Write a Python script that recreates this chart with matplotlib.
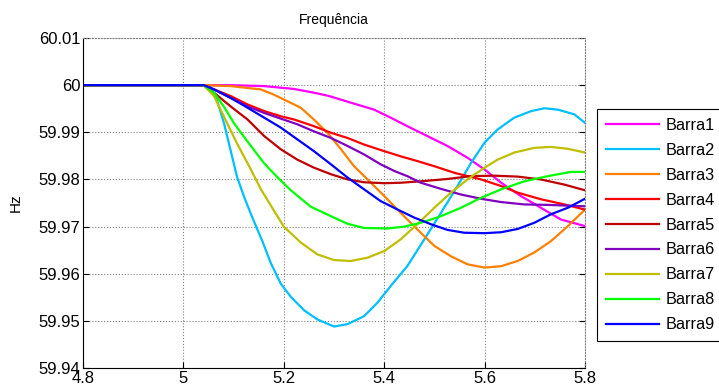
import matplotlib
matplotlib.use('Agg')
import matplotlib.pyplot as plt

plt.rcParams['font.family'] = ['Liberation Sans', 'DejaVu Sans']

# valores (tempo em s, frequência em Hz)
t1 = [4.8, 5.04, 5.094, 5.16, 5.22, 5.26, 5.29, 5.333, 5.38, 5.413, 5.446, 5.486, 5.526, 5.566, 5.6, 5.633, 5.672, 5.712, 5.752, 5.8]
f1 = [60.0, 60.0, 60.0, 59.9998, 59.9992, 59.9984, 59.9977, 59.9963, 59.9948, 59.9931, 59.9913, 59.9892, 59.9871, 59.9846, 59.9821, 59.9793, 59.9765, 59.9740, 59.9715, 59.9701]

t2 = [4.8, 5.04, 5.054, 5.067, 5.081, 5.094, 5.107, 5.121, 5.134, 5.147, 5.157, 5.174, 5.194, 5.214, 5.241, 5.267, 5.3, 5.327, 5.36, 5.387, 5.413, 5.446, 5.48, 5.513, 5.546, 5.573, 5.6, 5.626, 5.659, 5.693, 5.719, 5.746, 5.779, 5.8]
f2 = [60.0, 60.0, 59.99964, 59.9968, 59.9919, 59.9862, 59.9805, 59.9763, 59.9728, 59.9695, 59.9670, 59.9623, 59.9579, 59.9551, 59.9522, 59.9503, 59.9488, 59.9493, 59.9510, 59.9539, 59.9574, 59.9616, 59.9673, 59.9729, 59.9786, 59.9835, 59.9878, 59.9906, 59.9931, 59.9945, 59.9951, 59.9948, 59.9938, 59.9920]

t3 = [4.8, 5.04, 5.094, 5.154, 5.18, 5.207, 5.234, 5.26, 5.287, 5.314, 5.34, 5.367, 5.4, 5.433, 5.466, 5.5, 5.533, 5.566, 5.6, 5.633, 5.666, 5.699, 5.732, 5.766, 5.8]
f3 = [60.0, 60.0, 59.9998, 59.9991, 59.9980, 59.9966, 59.9952, 59.9927, 59.9899, 59.9864, 59.9828, 59.9800, 59.9765, 59.9729, 59.9694, 59.9659, 59.9637, 59.9620, 59.9613, 59.9616, 59.9627, 59.9645, 59.9669, 59.9701, 59.9736]

t4 = [4.8, 5.04, 5.061, 5.094, 5.128, 5.161, 5.194, 5.221, 5.26, 5.294, 5.327, 5.36, 5.4, 5.433, 5.466, 5.5, 5.54, 5.593, 5.633, 5.666, 5.712, 5.759, 5.8]
f4 = [60.0, 60.0, 59.9991, 59.9977, 59.9959, 59.9945, 59.9934, 59.9927, 59.9913, 59.9899, 59.9888, 59.9874, 59.9860, 59.9849, 59.9839, 59.9828, 59.9814, 59.9800, 59.9786, 59.9772, 59.9758, 59.9747, 59.9736]

t5 = [4.8, 5.04, 5.061, 5.094, 5.128, 5.161, 5.194, 5.227, 5.26, 5.294, 5.327, 5.36, 5.4, 5.433, 5.473, 5.526, 5.573, 5.619, 5.666, 5.712, 5.759, 5.8]
f5 = [60.0, 60.0, 59.9984, 59.9955, 59.9927, 59.9892, 59.9864, 59.9842, 59.9825, 59.9811, 59.9800, 59.9794, 59.9792, 59.9793, 59.9796, 59.9801, 59.9807, 59.9808, 59.9806, 59.9800, 59.9789, 59.9777]

t6 = [4.8, 5.04, 5.061, 5.094, 5.128, 5.161, 5.194, 5.227, 5.26, 5.294, 5.327, 5.36, 5.393, 5.42, 5.446, 5.473, 5.513, 5.553, 5.593, 5.633, 5.679, 5.726, 5.8]
f6 = [60.0, 60.0, 59.9991, 59.9973, 59.9955, 59.9941, 59.9929, 59.9917, 59.9902, 59.9888, 59.9871, 59.9853, 59.9832, 59.9818, 59.9807, 59.9793, 59.9780, 59.9768, 59.9759, 59.9752, 59.9747, 59.9746, 59.9743]

t7 = [4.8, 5.04, 5.061, 5.081, 5.107, 5.134, 5.154, 5.174, 5.2, 5.234, 5.267, 5.3, 5.333, 5.367, 5.4, 5.433, 5.466, 5.5, 5.533, 5.566, 5.6, 5.626, 5.659, 5.699, 5.732, 5.766, 5.8]
f7 = [60.0, 60.0, 59.9977, 59.9933, 59.9876, 59.9822, 59.9780, 59.9745, 59.9700, 59.9666, 59.9641, 59.9629, 59.9627, 59.9634, 59.9648, 59.9673, 59.9705, 59.9740, 59.9772, 59.9800, 59.9825, 59.9842, 59.9857, 59.9867, 59.9869, 59.9865, 59.9857]

t8 = [4.8, 5.04, 5.061, 5.081, 5.101, 5.121, 5.141, 5.161, 5.187, 5.214, 5.254, 5.294, 5.327, 5.36, 5.407, 5.44, 5.473, 5.513, 5.553, 5.593, 5.633, 5.679, 5.726, 5.772, 5.8]
f8 = [60.0, 60.0, 59.9984, 59.9954, 59.9919, 59.9890, 59.9862, 59.9834, 59.9805, 59.9777, 59.9742, 59.9722, 59.9706, 59.9697, 59.9696, 59.9700, 59.9708, 59.9722, 59.9740, 59.9761, 59.9779, 59.9796, 59.9807, 59.9816, 59.9816]

t9 = [4.8, 5.04, 5.061, 5.094, 5.128, 5.161, 5.194, 5.227, 5.26, 5.294, 5.327, 5.36, 5.393, 5.427, 5.46, 5.493, 5.526, 5.559, 5.6, 5.633, 5.666, 5.699, 5.732, 5.766, 5.8]
f9 = [60.0, 60.0, 59.9991, 59.9973, 59.9952, 59.9931, 59.9910, 59.9885, 59.9860, 59.9832, 59.9804, 59.9779, 59.9754, 59.9736, 59.9719, 59.9705, 59.9693, 59.9687, 59.9686, 59.9688, 59.9695, 59.9708, 59.9726, 59.9740, 59.9759]

nomes = ['Barra1', 'Barra2', 'Barra3', 'Barra4', 'Barra5', 'Barra6', 'Barra7', 'Barra8', 'Barra9']
cores = ['#ff00ff', '#00bfff', '#ff8000', '#ff0000', '#bf0000', '#8000bf', '#bfbf00', '#00ff00', '#0000ff']
xticks = [4.8, 5.0, 5.2, 5.4, 5.6, 5.8]
xticklabels = ['4.8', '5', '5.2', '5.4', '5.6', '5.8']
yticks = [59.94, 59.95, 59.96, 59.97, 59.98, 59.99, 60.0, 60.01]
yticklabels = ['59.94', '59.95', '59.96', '59.97', '59.98', '59.99', '60', '60.01']

tempos = [t1, t2, t3, t4, t5, t6, t7, t8, t9]
freqs = [f1, f2, f3, f4, f5, f6, f7, f8, f9]

fig = plt.figure(figsize=(7.19, 3.91), dpi=100)
ax = fig.add_axes([0.1154, 0.0588, 0.6982, 0.844])

for t, f, nome, cor in zip(tempos, freqs, nomes, cores):
    ax.plot(t, f, color=cor, linewidth=1.6, label=nome)

ax.set_xlim(4.8, 5.8)
ax.set_ylim(59.94, 60.01)
ax.set_xticks(xticks)
ax.set_xticklabels(xticklabels)
ax.set_yticks(yticks)
ax.set_yticklabels(yticklabels)
ax.tick_params(direction='in', length=4, labelsize=12, right=True, pad=2)
ax.grid(True, linestyle=':', color='#808080', linewidth=0.8)

for s in ['top', 'right']:
    ax.spines[s].set_color('#808080')
    ax.spines[s].set_linestyle(':')
    ax.spines[s].set_linewidth(0.8)

ax.set_title('Frequência', fontsize=10, pad=10)
ax.set_ylabel('Hz', fontsize=11, labelpad=11)

leg = ax.legend(loc='upper left', bbox_to_anchor=(1.024, 0.785), fontsize=11.7,
                handlelength=3.25, borderaxespad=0, fancybox=False,
                edgecolor='black', framealpha=1, labelspacing=0.61,
                borderpad=0.55, handletextpad=0.42)
leg.get_frame().set_linewidth(0.8)

plt.savefig('out.png', dpi=100)
